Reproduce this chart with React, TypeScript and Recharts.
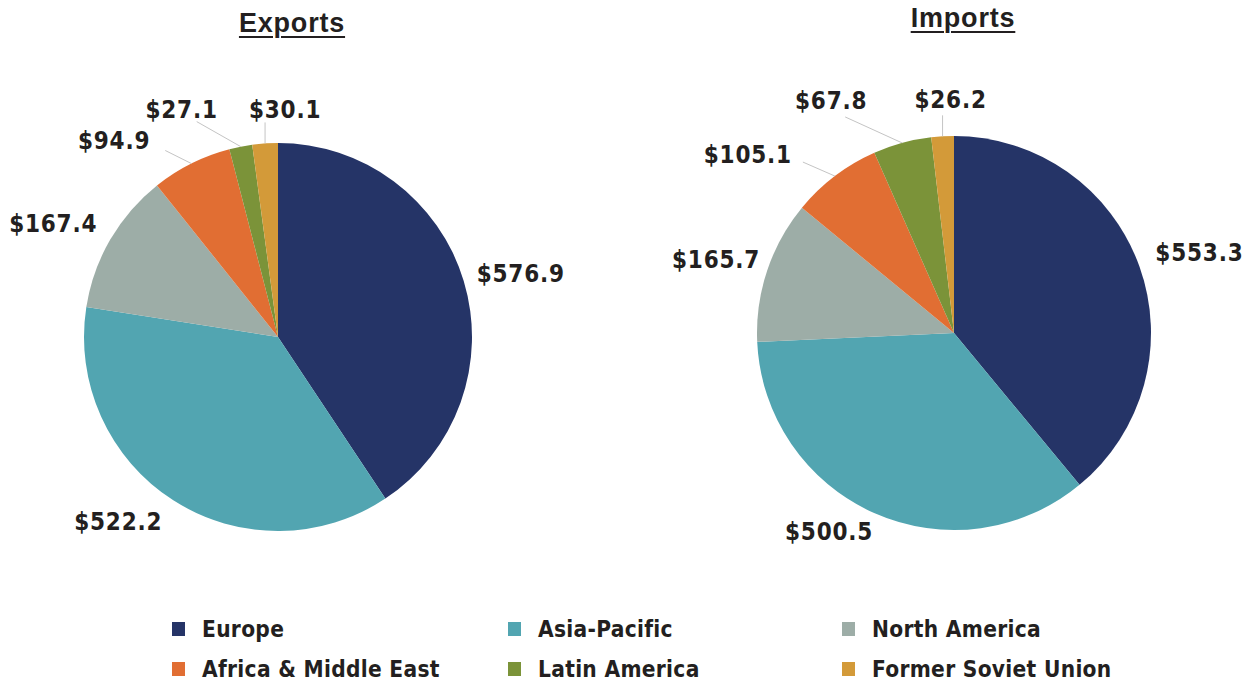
import { PieChart, Pie, Cell } from 'recharts'

// Trade by region, $ billions
const CATEGORIES = [
  'Europe',
  'Asia-Pacific',
  'North America',
  'Africa & Middle East',
  'Latin America',
  'Former Soviet Union',
]
const EXPORTS = [576.9, 522.2, 167.4, 94.9, 27.1, 30.1]
const IMPORTS = [553.3, 500.5, 165.7, 105.1, 67.8, 26.2]

const COLORS = ['#253467', '#52a5b1', '#9dada7', '#e16e33', '#7b9339', '#d39a39']

const TEXT = '#231f20'
const LABEL_FONT = '"DejaVu Sans Condensed", "DejaVu Sans", sans-serif'

type Place = { dx: number; dy: number; anchor: 'start' | 'middle' | 'end'; line?: [number, number] }

// label offsets from the slice's outer edge point
const EXPORT_PLACES: Place[] = [
  { dx: 13, dy: -7, anchor: 'start' },
  { dx: -11, dy: 22, anchor: 'end' },
  { dx: -13, dy: -16, anchor: 'end' },
  { dx: -41, dy: -22, anchor: 'end', line: [-26, -13] },
  { dx: -23, dy: -37, anchor: 'end', line: [-44, -25] },
  { dx: 20, dy: -33, anchor: 'middle', line: [0, -21] },
]
const IMPORT_PLACES: Place[] = [
  { dx: 16, dy: -13, anchor: 'start' },
  { dx: -1, dy: 19, anchor: 'end' },
  { dx: -7, dy: -11, anchor: 'end' },
  { dx: -43, dy: -21, anchor: 'end', line: [-32, -14] },
  { dx: -71, dy: -42, anchor: 'middle', line: [-57, -26] },
  { dx: 8, dy: -36, anchor: 'middle', line: [0, -21] },
]

const exportData = CATEGORIES.map((name, i) => ({ name, value: EXPORTS[i] }))
const importData = CATEGORIES.map((name, i) => ({ name, value: IMPORTS[i] }))

const makeLabel = (places: Place[]) => (props: any) => {
  const { cx, cy, midAngle, outerRadius, index, value } = props
  const rad = (-midAngle * Math.PI) / 180
  const ex = cx + outerRadius * Math.cos(rad)
  const ey = cy + outerRadius * Math.sin(rad)
  const p = places[index]
  return (
    <g key={`lbl-${index}`}>
      {p.line && (
        <line x1={ex} y1={ey} x2={ex + p.line[0]} y2={ey + p.line[1]} stroke="#c4c4c4" strokeWidth={1} />
      )}
      <text
        x={ex + p.dx}
        y={ey + p.dy}
        textAnchor={p.anchor}
        dominantBaseline="central"
        fill={TEXT}
        fontFamily={LABEL_FONT}
        fontWeight="bold"
        fontSize={24}
        letterSpacing={0.8}
      >
        ${Number(value).toFixed(1)}
      </text>
    </g>
  )
}

const titleStyle = {
  position: 'absolute' as const,
  width: 300,
  textAlign: 'center' as const,
  fontFamily: '"Liberation Sans", Arial, sans-serif',
  fontWeight: 'bold' as const,
  fontSize: 27,
  lineHeight: '27px',
  letterSpacing: 0.8,
  textDecoration: 'underline',
  textDecorationThickness: 2,
  textUnderlineOffset: 4,
  color: TEXT,
}

const LEGEND_COLS = [172, 508, 842]
const LEGEND_ROWS = [619, 659]

export default function App() {
  return (
    <div style={{ position: 'absolute', left: 0, top: 0, width: 1252, height: 683, background: '#fff' }}>
      <PieChart width={1252} height={600} margin={{ top: 0, right: 0, bottom: 0, left: 0 }}>
        <Pie
          data={exportData}
          dataKey="value"
          cx={278}
          cy={337}
          outerRadius={194}
          startAngle={90}
          endAngle={-270}
          stroke="none"
          isAnimationActive={false}
          labelLine={false}
          label={makeLabel(EXPORT_PLACES)}
        >
          {exportData.map((_, idx) => (
            <Cell key={idx} fill={COLORS[idx]} />
          ))}
        </Pie>
        <Pie
          data={importData}
          dataKey="value"
          cx={954}
          cy={333}
          outerRadius={197}
          startAngle={90}
          endAngle={-270}
          stroke="none"
          isAnimationActive={false}
          labelLine={false}
          label={makeLabel(IMPORT_PLACES)}
        >
          {importData.map((_, idx) => (
            <Cell key={idx} fill={COLORS[idx]} />
          ))}
        </Pie>
      </PieChart>

      <div style={{ ...titleStyle, left: 142, top: 10 }}>Exports</div>
      <div style={{ ...titleStyle, left: 813, top: 5 }}>Imports</div>

      {CATEGORIES.map((name, i) => (
        <div
          key={name}
          style={{
            position: 'absolute',
            left: LEGEND_COLS[i % 3],
            top: LEGEND_ROWS[Math.floor(i / 3)],
            height: 20,
            display: 'flex',
            alignItems: 'center',
            whiteSpace: 'nowrap',
          }}
        >
          <span style={{ width: 13, height: 14, background: COLORS[i], display: 'inline-block' }} />
          <span
            style={{
              marginLeft: 17,
              fontFamily: LABEL_FONT,
              fontWeight: 'bold',
              fontSize: 22.5,
              letterSpacing: 0.3,
              color: TEXT,
            }}
          >
            {name}
          </span>
        </div>
      ))}
    </div>
  )
}
